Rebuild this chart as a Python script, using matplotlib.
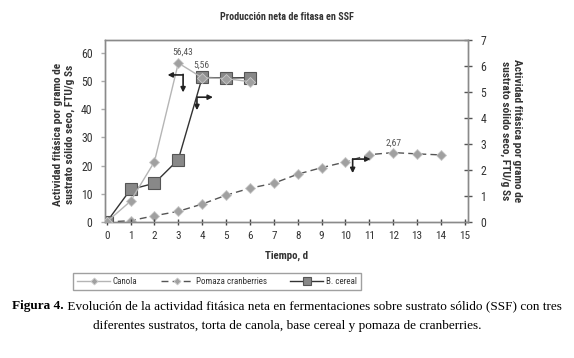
import matplotlib
matplotlib.use("Agg")
import matplotlib.pyplot as plt

days_canola = [0, 1, 2, 3, 4, 5, 6]
canola = [0, 7.4, 21.4, 56.43, 51.2, 50.9, 49.8]
days_cereal = [0, 1, 2, 3, 4, 5, 6]
cereal = [0, 1.25, 1.49, 2.40, 5.56, 5.54, 5.55]
days_pomaza = [0, 1, 2, 3, 4, 5, 6, 7, 8, 9, 10, 11, 12, 13, 14]
pomaza = [0, 0.05, 0.24, 0.41, 0.69, 1.03, 1.30, 1.49, 1.84, 2.09, 2.31, 2.59, 2.67, 2.62, 2.58]
x_ticks = list(range(0, 16))
left_ticks = [0, 10, 20, 30, 40, 50, 60]
right_ticks = [0, 1, 2, 3, 4, 5, 6, 7]

narrow = ['Roboto Condensed', 'DejaVu Sans']
serif = ['Liberation Serif', 'DejaVu Serif']
plt.rcParams['font.family'] = narrow

W, H = 574, 358
fig = plt.figure(figsize=(W / 100, H / 100), dpi=100)
ax = fig.add_axes([105 / W, 1 - 222 / H, (468 - 105) / W, (222 - 40) / H])
ax2 = ax.twinx()

tc = '#333333'
sc = '#8a8a8a'

l1, = ax.plot(days_canola, canola, color='#b5b5b5', lw=1.0, marker='D', ms=5,
              mfc='#a0a0a0', mec='#c8c8c8', mew=0.6, zorder=3, label='Canola')
l2, = ax2.plot(days_pomaza, pomaza, color='#555555', lw=1.0, ls=(0, (5, 3)), marker='D', ms=5,
               mfc='#a0a0a0', mec='#c8c8c8', mew=0.6, zorder=3, label='Pomaza cranberries')
l3, = ax2.plot(days_cereal, cereal, color='#333333', lw=1.0, marker='s', ms=8,
               mfc='#888888', mec='#555555', mew=0.8, zorder=4, label='B. cereal')

ax.set_xlim(-0.07, 15.13)
ax.set_ylim(0, 64.6)
ax2.set_ylim(0, 7)
ax.set_xticks(x_ticks)
ax.set_yticks(left_ticks)
ax2.set_yticks(right_ticks)
ax.set_zorder(ax2.get_zorder() + 1)
ax.patch.set_visible(False)

for a in (ax, ax2):
    for s in a.spines.values():
        s.set_color(sc)
        s.set_linewidth(1.0)
ax.tick_params(axis='x', direction='inout', length=5, width=1, color='#444444', labelsize=8, labelcolor=tc, pad=4)
ax.tick_params(axis='y', direction='out', length=3, width=1, color='#aaaaaa', labelsize=8.5, labelcolor=tc, pad=6)
ax2.tick_params(axis='y', direction='inout', length=6, width=1, color='#555555', labelsize=8.5, labelcolor=tc, pad=6)

ax.set_xlabel('Tiempo, d', fontsize=7.8, fontweight='bold', color=tc, labelpad=7)
fig.text(64 / W, 1 - 134 / H, 'Actividad fitásica por gramo de\nsustrato sólido seco, FTU/g Ss',
         rotation=90, ha='center', va='center', fontsize=8.2, fontweight='bold', color=tc,
         linespacing=1.1)
fig.text(511 / W, 1 - 131 / H, 'Actividad fitásica por gramo de\nsustrato sólido seco, FTU/g Ss',
         rotation=270, ha='center', va='center', fontsize=8.2, fontweight='bold', color=tc,
         linespacing=1.1)
fig.text(287 / W, 1 - 17 / H, 'Producción neta de fitasa en SSF', ha='center', va='center',
         fontsize=7.3, fontweight='bold', color=tc)

# value labels
ax.annotate('56,43', xy=(3, 56.43), xytext=(3.2, 60.2), textcoords='data', fontsize=6.8,
            color='#555555', ha='center', va='center')
ax2.annotate('5,56', xy=(4, 5.56), xytext=(3.95, 6.05), textcoords='data', fontsize=6.8,
             color='#555555', ha='center', va='center')
ax2.annotate('2,67', xy=(12, 2.67), xytext=(12.0, 3.03), textcoords='data', fontsize=6.8,
             color='#555555', ha='center', va='center')

# axis indicator arrows
ap = dict(arrowstyle='-|>', color='#222222', lw=1.2, mutation_scale=7, shrinkA=0, shrinkB=0)
ax.annotate('', xy=(2.55, 52.2), xytext=(3.2, 52.2), arrowprops=ap)
ax.annotate('', xy=(3.2, 46.0), xytext=(3.2, 52.4), arrowprops=ap)
ax2.annotate('', xy=(3.78, 4.3), xytext=(3.78, 4.8), arrowprops=ap)
ax2.annotate('', xy=(4.45, 4.8), xytext=(3.78, 4.8), arrowprops=ap)
ax2.annotate('', xy=(10.3, 1.88), xytext=(10.3, 2.42), arrowprops=ap)
ax2.annotate('', xy=(11.05, 2.42), xytext=(10.3, 2.42), arrowprops=ap)

leg = fig.legend(handles=[l1, l2, l3], loc='center', bbox_to_anchor=(217 / W, 1 - 281.5 / H),
                 ncol=3, fontsize=6.5, frameon=True, fancybox=False, edgecolor='#888888',
                 handlelength=3.6, columnspacing=2.6, borderpad=0.45, handletextpad=0.3,
                 borderaxespad=0, markerscale=0.7)
for t in leg.get_texts():
    t.set_color(tc)
leg.get_frame().set_linewidth(1.0)

# caption
fig.canvas.draw()
r = fig.canvas.get_renderer()
cap_fs = 9.5
line1_b = 'Figura 4.'
line1_n = ' Evolución de la actividad fitásica neta en fermentaciones sobre sustrato sólido (SSF) con tres'
tb = fig.text(0, 0, line1_b, fontsize=cap_fs, fontweight='bold', family=serif)
tn = fig.text(0, 0, line1_n, fontsize=cap_fs, family=serif)
wb = tb.get_window_extent(r).width
wn = tn.get_window_extent(r).width
x0 = (W - (wb + wn)) / 2
y1 = 1 - 306 / H
tb.set_position((x0 / W, y1)); tb.set_va('center')
tn.set_position(((x0 + wb) / W, y1)); tn.set_va('center')
fig.text(0.5, 1 - 326 / H, 'diferentes sustratos, torta de canola, base cereal y pomaza de cranberries.',
         fontsize=cap_fs, family=serif, ha='center', va='center')

fig.savefig('out.png', dpi=100)
